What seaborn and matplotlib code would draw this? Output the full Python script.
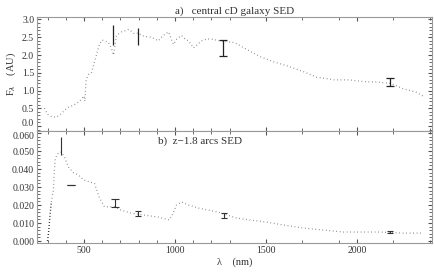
import matplotlib
matplotlib.use('Agg')
import matplotlib.pyplot as plt
import matplotlib.transforms as mtransforms
import seaborn as sns
from matplotlib.ticker import MultipleLocator, FixedLocator

# panel a) central cD galaxy SED
cd_wave = [283, 300, 320, 345, 365, 395, 415, 440, 470, 490, 500, 505, 512, 525,
           541, 555, 569, 585, 600, 613, 635, 650, 662, 679, 706, 725, 745, 765,
           777, 800, 816, 840, 871, 890, 909, 935, 964, 992, 1010, 1036, 1055,
           1074, 1102, 1125, 1146, 1175, 1201, 1245, 1327, 1404, 1470, 1547,
           1613, 1712, 1777, 1876, 1959, 2036, 2107, 2184, 2255, 2327, 2371]
cd_flux = [0.50, 0.33, 0.27, 0.25, 0.30, 0.45, 0.53, 0.58, 0.67, 0.78, 0.85, 0.70,
           1.30, 1.45, 1.50, 1.75, 2.00, 2.30, 2.42, 2.40, 2.35, 2.20, 2.00, 2.55,
           2.65, 2.68, 2.72, 2.65, 2.60, 2.62, 2.55, 2.52, 2.50, 2.45, 2.40, 2.55,
           2.65, 2.30, 2.45, 2.55, 2.45, 2.40, 2.20, 2.30, 2.40, 2.45, 2.45, 2.40,
           2.35, 2.13, 1.95, 1.80, 1.70, 1.52, 1.38, 1.30, 1.30, 1.25, 1.24, 1.20,
           1.05, 0.95, 0.82]
cd_phot_wave = [662, 799, 1266, 2184]
cd_phot_flux = [2.56, 2.53, 2.19, 1.24]
cd_phot_err = [0.28, 0.24, 0.22, 0.12]
cd_phot_cap = [0, 0, 3, 3]

# panel b) z~1.8 arcs SED
arc_blue_wave = [300, 305, 310, 315, 321]
arc_blue_flux = [0.0, 0.004, 0.010, 0.016, 0.0217]
arc_wave = [321, 332, 338, 343, 360, 376, 393, 415, 442, 470, 497, 525, 558, 585,
            613, 668, 706, 761, 832, 909, 970, 992, 1008, 1036, 1074, 1129, 1184,
            1239, 1338, 1409, 1503, 1596, 1706, 1816, 1926, 2036, 2124, 2255, 2365]
arc_flux = [0.0217, 0.028, 0.040, 0.046, 0.049, 0.0494, 0.0467, 0.041, 0.038,
            0.0367, 0.034, 0.033, 0.032, 0.024, 0.019, 0.019, 0.017, 0.0155,
            0.0144, 0.0133, 0.0117, 0.016, 0.020, 0.0217, 0.020, 0.0183, 0.0172,
            0.016, 0.0128, 0.0117, 0.0105, 0.0089, 0.0072, 0.0061, 0.005, 0.005,
            0.005, 0.0044, 0.0044]
arc_phot_wave = [376, 431, 668, 799, 1272, 2179]
arc_phot_flux = [0.0528, 0.0310, 0.0212, 0.0153, 0.0142, 0.0050]
arc_phot_err = [0.0050, 0.0, 0.0022, 0.0014, 0.0013, 0.0004]
arc_phot_cap = [0, 3, 3, 2, 2, 2]

x_ticks = [500, 1000, 1500, 2000]
x_minor = [300, 400, 600, 700, 800, 900, 1100, 1200, 1300, 1700, 1900, 2200, 2400]
top_yticks = [0.0, 0.5, 1.0, 1.5, 2.0, 2.5, 3.0]
bot_yticks = [0.000, 0.010, 0.020, 0.030, 0.040, 0.050, 0.060]

sns.set_theme(style="ticks")
plt.rcParams['font.family'] = ['Liberation Serif', 'DejaVu Serif']
txt = '#333333'
spine_c = '#999999'

fig = plt.figure(figsize=(4.35, 2.77), dpi=100)
ax1 = fig.add_axes([0.085, 0.527, 0.908, 0.4116])
ax2 = fig.add_axes([0.085, 0.1227, 0.908, 0.4043])

for ax in (ax1, ax2):
    ax.set_xlim(242, 2412)
    ax.xaxis.set_major_locator(FixedLocator(x_ticks))
    ax.xaxis.set_minor_locator(FixedLocator(x_minor))
    ax.tick_params(which='both', direction='in', top=True, right=True,
                   color='#555555', labelsize=7, labelcolor=txt, pad=2)
    ax.tick_params(which='major', length=3, width=0.8)
    ax.tick_params(which='minor', length=2, width=0.6)
    for s in ax.spines.values():
        s.set_color(spine_c)
        s.set_linewidth(0.8)

# top panel
sns.lineplot(x=cd_wave, y=cd_flux, ax=ax1, color='#777777', lw=0.9,
             linestyle=(0, (0.6, 2.2)), sort=False, estimator=None)
for w, f, e, c in zip(cd_phot_wave, cd_phot_flux, cd_phot_err, cd_phot_cap):
    ax1.errorbar(w, f, yerr=e, fmt='none', ecolor='#222222', elinewidth=0.9,
                 capsize=c, capthick=0.9)
ax1.set_ylim(-0.14, 3.07)
ax1.set_yticks(top_yticks)
ax1.set_yticklabels([f'{v:.1f}' for v in top_yticks])
ax1.yaxis.set_minor_locator(MultipleLocator(0.1))
ax1.tick_params(axis='x', labelbottom=False)
ax1.set_ylabel(r'F$_\lambda$    (AU)', fontsize=7.5, color=txt, labelpad=3)
ax1.set_title('a)   central cD galaxy SED', fontsize=8, color=txt, pad=2)

# bottom panel
sns.lineplot(x=arc_blue_wave, y=arc_blue_flux, ax=ax2, color='#111111', lw=1.0,
             linestyle=(0, (0.6, 1.6)), sort=False, estimator=None)
sns.lineplot(x=arc_wave, y=arc_flux, ax=ax2, color='#777777', lw=0.9,
             linestyle=(0, (0.6, 2.2)), sort=False, estimator=None)
for w, f, e, c in zip(arc_phot_wave, arc_phot_flux, arc_phot_err, arc_phot_cap):
    ax2.errorbar(w, f, yerr=e, fmt='none', ecolor='#333333', elinewidth=0.8,
                 capsize=c, capthick=0.8)
ax2.set_ylim(-0.0011, 0.0611)
ax2.set_yticks(bot_yticks)
ax2.set_yticklabels([f'{v:.3f}' for v in bot_yticks])
ax2.yaxis.set_minor_locator(MultipleLocator(0.002))
ax2.set_xticklabels([str(v) for v in x_ticks])
ax2.text(0.306, 0.905, 'b)  z\u22121.8 arcs SED', transform=ax2.transAxes,
         fontsize=8, color=txt, va='center', ha='left')
ax2.set_xlabel('\u03bb    (nm)', fontsize=7.5, color=txt, labelpad=2)

# the two labels at the panel join sit close together; nudge them apart a little
fig.canvas.draw()
up = mtransforms.ScaledTranslation(0, 2.5 / 72, fig.dpi_scale_trans)
down = mtransforms.ScaledTranslation(0, -2.0 / 72, fig.dpi_scale_trans)
lab0 = ax1.get_yticklabels()[0]
lab0.set_transform(lab0.get_transform() + up)
lab_top = ax2.get_yticklabels()[-1]
lab_top.set_transform(lab_top.get_transform() + down)

fig.savefig('out.png', dpi=100)
